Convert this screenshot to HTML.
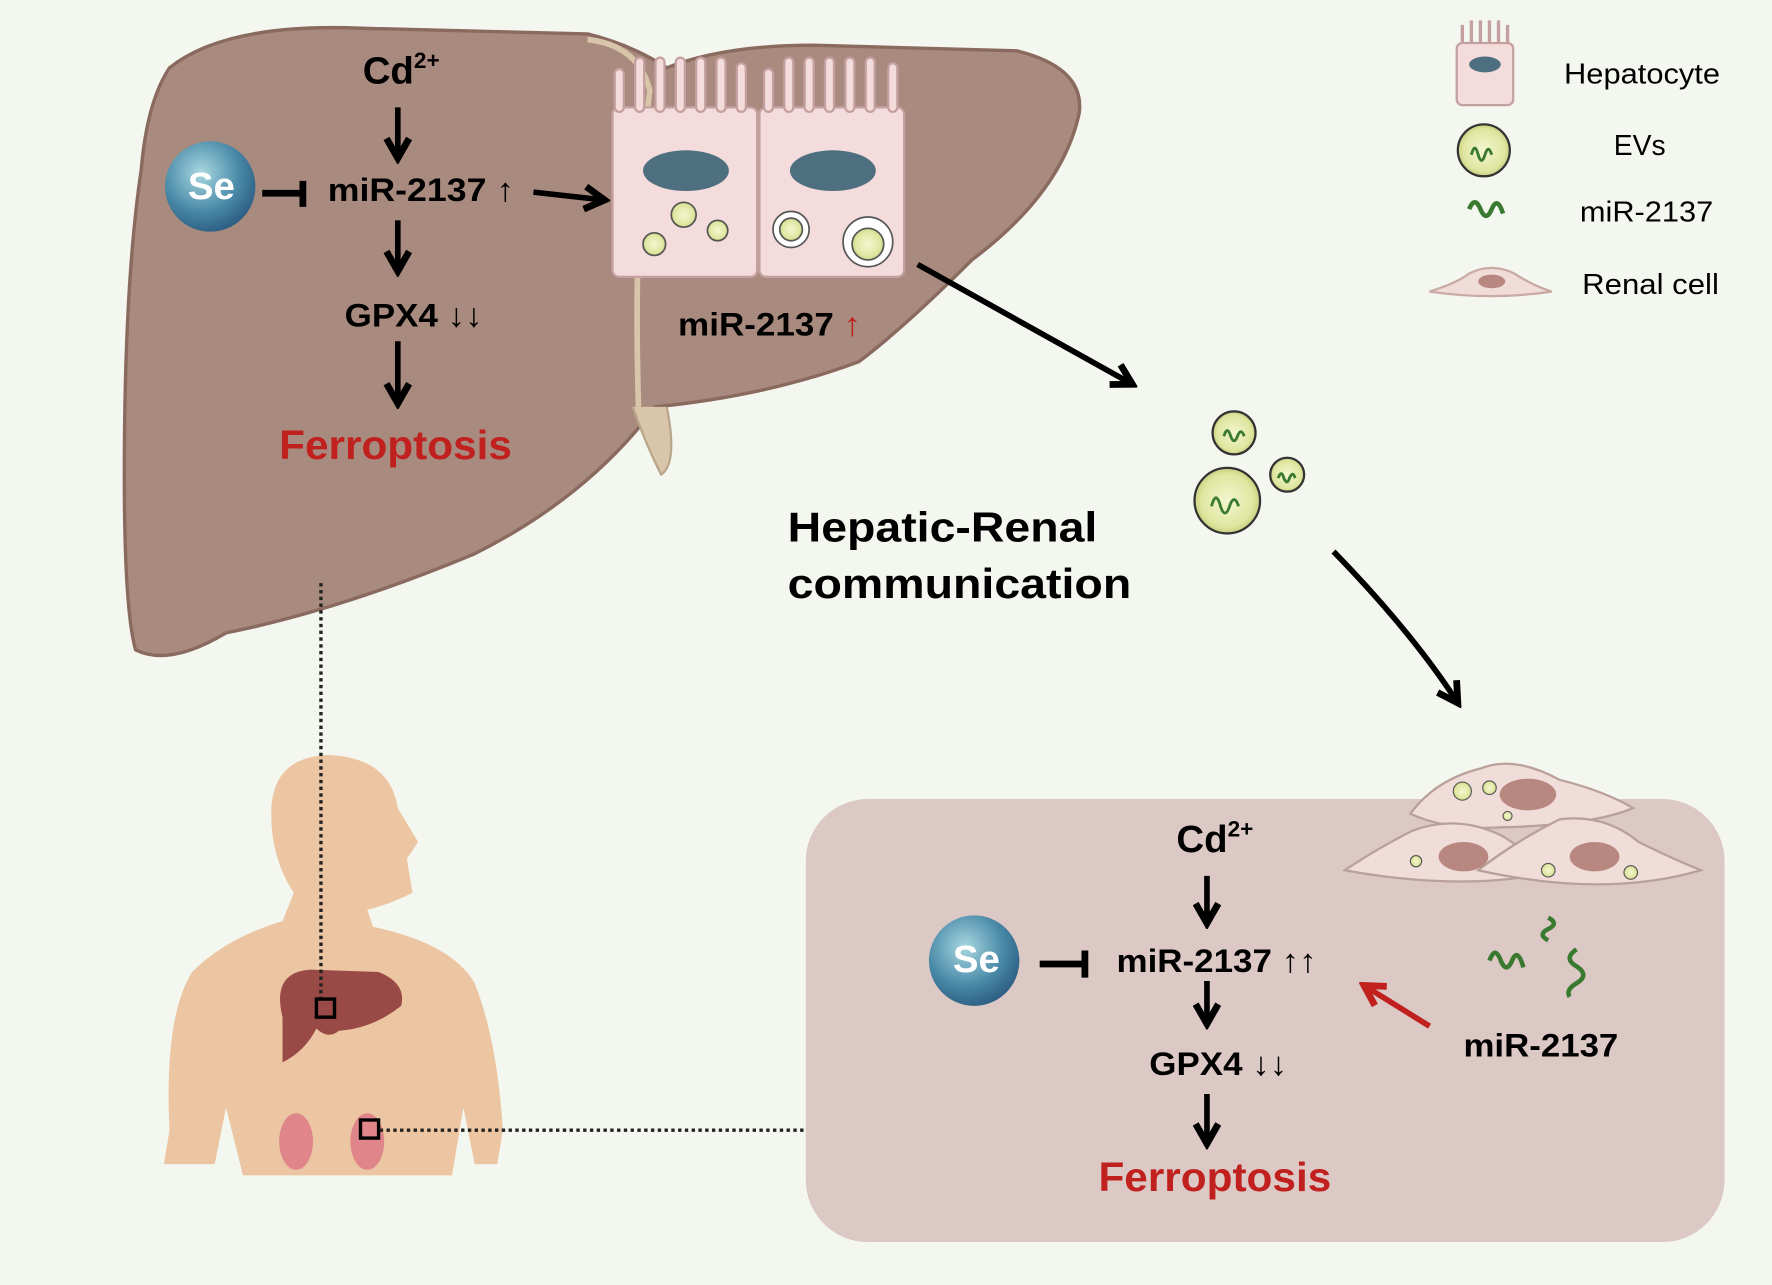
<!DOCTYPE html>
<html><head><meta charset="utf-8"><style>
html,body{margin:0;padding:0;background:#f4f7f0;}
svg{display:block}
text{font-family:"Liberation Sans",Arial,sans-serif;font-weight:bold;}
</style></head><body>
<svg width="1772" height="1285" viewBox="0 0 1568 1137" preserveAspectRatio="none" xmlns="http://www.w3.org/2000/svg">
<defs>
<marker id="ah" viewBox="0 0 10 10" refX="8" refY="5" markerWidth="5" markerHeight="5" orient="auto"><path d="M1,1 L8,5 L1,9" fill="none" stroke="#000" stroke-width="2.4"/></marker>
<marker id="ahr" viewBox="0 0 10 10" refX="8" refY="5" markerWidth="5" markerHeight="5" orient="auto"><path d="M1,1 L8,5 L1,9" fill="none" stroke="#c0201e" stroke-width="2.4"/></marker>
<radialGradient id="se" cx="0.4" cy="0.35" r="0.7"><stop offset="0" stop-color="#a8d8e0"/><stop offset="0.6" stop-color="#4a8aa8"/><stop offset="1" stop-color="#2a5a80"/></radialGradient>
<radialGradient id="ev" cx="0.5" cy="0.5" r="0.5"><stop offset="0" stop-color="#f4f6d0"/><stop offset="0.8" stop-color="#dfe6a0"/><stop offset="1" stop-color="#c8d080"/></radialGradient>
</defs>
<rect width="1568" height="1137" fill="#f4f7f0"/>
<!-- liver -->
<path d="M150,60 Q200,20 320,25 L520,30 Q560,40 590,60 Q640,40 720,40 L900,45 Q960,60 955,100 Q940,170 860,230 Q800,290 760,320 Q680,350 580,360 Q520,440 420,490 Q300,540 200,560 Q150,590 120,575 Q110,540 110,420 Q110,250 125,150 Q130,90 150,60 Z" fill="#a98a7e" stroke="#8a6a5f" stroke-width="3"/>
<path d="M560,360 Q570,390 585,420 Q600,410 590,360" fill="#d9c6aa" stroke="#b9a68a" stroke-width="2"/>
<path d="M520,35 Q565,40 575,80 Q560,200 565,360" fill="none" stroke="#d9c6aa" stroke-width="5"/>
<!-- hepatocytes -->
<g stroke="#c5a0a0" stroke-width="2" fill="#f5dcdc">
<rect x="542" y="95" width="128" height="150" rx="6"/>
<rect x="672" y="95" width="128" height="150" rx="6"/>
<path d="M548,95 V65 M566,95 V55 M584,95 V55 M602,95 V55 M620,95 V55 M638,95 V55 M656,95 V60 M680,95 V65 M698,95 V55 M716,95 V55 M734,95 V55 M752,95 V55 M770,95 V55 M790,95 V60" stroke="#c5a0a0" stroke-width="10" stroke-linecap="round"/>
<path d="M548,95 V65 M566,95 V55 M584,95 V55 M602,95 V55 M620,95 V55 M638,95 V55 M656,95 V60 M680,95 V65 M698,95 V55 M716,95 V55 M734,95 V55 M752,95 V55 M770,95 V55 M790,95 V60" stroke="#f5dcdc" stroke-width="6" stroke-linecap="round"/>
</g>
<ellipse cx="607" cy="151" rx="38" ry="18" fill="#4e6f80"/>
<ellipse cx="737" cy="151" rx="38" ry="18" fill="#4e6f80"/>
<g fill="url(#ev)" stroke="#555" stroke-width="1.5">
<circle cx="605" cy="190" r="11"/><circle cx="635" cy="204" r="9"/><circle cx="579" cy="216" r="10"/>
<circle cx="700" cy="203" r="16" fill="#fff"/><circle cx="700" cy="203" r="10"/>
<circle cx="768" cy="214" r="22" fill="#fff"/><circle cx="768" cy="216" r="14"/>
</g>
<!-- top text -->
<text x="355" y="74" font-size="34" text-anchor="middle">Cd<tspan font-size="20" dy="-14">2+</tspan></text>
<path d="M232,171 H268 M268,160 V183" stroke="#000" stroke-width="6"/>
<circle cx="186" cy="165" r="40" fill="url(#se)"/>
<text x="187" y="176" font-size="34" fill="#fff" text-anchor="middle">Se</text>
<text x="290" y="178" font-size="29" textLength="165" lengthAdjust="spacingAndGlyphs">miR-2137 <tspan font-weight="normal">↑</tspan></text>
<text x="305" y="289" font-size="29" textLength="122" lengthAdjust="spacingAndGlyphs">GPX4 <tspan font-weight="normal">↓↓</tspan></text>
<text x="350" y="406" font-size="36" fill="#c0201e" text-anchor="middle" textLength="206" lengthAdjust="spacingAndGlyphs">Ferroptosis</text>
<text x="600" y="297" font-size="29" textLength="162" lengthAdjust="spacingAndGlyphs">miR-2137 <tspan font-weight="normal" fill="#c0201e">↑</tspan></text>
<!-- legend -->
<rect x="1289" y="38" width="50" height="55" rx="5" fill="#f5dcdc" stroke="#c5a0a0" stroke-width="2"/>
<path d="M1294,38 V22 M1302,38 V18 M1310,38 V18 M1318,38 V18 M1326,38 V18 M1334,38 V22" stroke="#c5a0a0" stroke-width="3"/>
<ellipse cx="1314" cy="57" rx="14" ry="7" fill="#4e6f80"/>
<text x="1384" y="74" font-size="25" font-weight="normal" style="font-weight:normal" textLength="138" lengthAdjust="spacingAndGlyphs">Hepatocyte</text>
<circle cx="1313" cy="133" r="23" fill="url(#ev)" stroke="#333" stroke-width="2"/>
<path d="M1302,137 q3,-12 6,0 q3,10 6,0 q3,-10 6,0" stroke="#3a7a30" stroke-width="2.5" fill="none"/>
<text x="1428" y="137" font-size="25" style="font-weight:normal">EVs</text>
<path d="M1300,185 q5,-12 10,0 q5,12 10,0 q5,-12 10,4" stroke="#3a7a30" stroke-width="4" fill="none"/>
<text x="1398" y="196" font-size="25" style="font-weight:normal" textLength="118" lengthAdjust="spacingAndGlyphs">miR-2137</text>
<path d="M1265,258 Q1290,250 1300,242 Q1320,232 1340,242 Q1355,252 1373,258 Q1320,266 1265,258Z" fill="#f0dcd8" stroke="#c9aaa5" stroke-width="2"/>
<ellipse cx="1320" cy="249" rx="12" ry="6" fill="#b88880"/>
<text x="1400" y="260" font-size="25" style="font-weight:normal" textLength="121" lengthAdjust="spacingAndGlyphs">Renal cell</text>
<!-- EVs middle -->
<g fill="url(#ev)" stroke="#333" stroke-width="2">
<circle cx="1092" cy="383" r="19"/><circle cx="1139" cy="420" r="15"/><circle cx="1086" cy="443" r="29"/>
</g>
<g stroke="#3a7a30" stroke-width="2.5" fill="none">
<path d="M1083,386 q3,-10 6,0 q3,8 6,0 q3,-8 6,0"/><path d="M1131,423 q3,-8 5,0 q3,7 5,0 q3,-7 5,0"/><path d="M1072,448 q4,-15 8,0 q4,12 8,0 q4,-12 8,0"/>
</g>
<text x="697" y="479" font-size="37" textLength="274" lengthAdjust="spacingAndGlyphs">Hepatic-Renal</text>
<text x="697" y="529" font-size="37" textLength="304" lengthAdjust="spacingAndGlyphs">communication</text>
<!-- human -->
<path d="M150,1000 Q145,900 170,860 Q200,830 250,815 L260,790 Q240,760 240,720 Q240,670 290,668 Q345,670 352,715 L370,745 L360,760 L365,790 Q345,800 325,805 L330,820 Q400,835 420,870 Q440,920 445,1000 L440,1030 L420,1030 L410,980 L400,1040 L215,1040 L200,980 L190,1030 L145,1030 Z" fill="#ecc6a2"/>
<path d="M250,900 Q240,860 275,858 L335,860 Q360,870 355,890 Q330,910 300,912 Q290,920 280,910 Q270,930 250,940Z" fill="#9a4a46"/>
<ellipse cx="262" cy="1010" rx="15" ry="25" fill="#e0868a"/><ellipse cx="325" cy="1010" rx="15" ry="25" fill="#e0868a"/>
<line x1="284" y1="516" x2="284" y2="888" stroke="#222" stroke-width="3" stroke-dasharray="3,3"/>
<rect x="280" y="884" width="16" height="16" fill="none" stroke="#000" stroke-width="3"/>
<rect x="319" y="991" width="16" height="16" fill="none" stroke="#000" stroke-width="3"/>
<line x1="336" y1="1000" x2="712" y2="1000" stroke="#222" stroke-width="3" stroke-dasharray="3,3"/>
<!-- renal box -->
<rect x="713" y="707" width="813" height="392" rx="55" fill="#dcc8c4"/>
<g fill="#f0dcd8" stroke="#b9a09a" stroke-width="2">
<path d="M1248,720 Q1270,690 1310,680 Q1340,668 1380,690 Q1420,700 1445,715 Q1410,730 1330,732 Q1280,735 1248,720Z"/>
<path d="M1190,770 Q1220,750 1250,735 Q1290,720 1330,740 Q1360,760 1380,770 Q1300,790 1190,770Z"/>
<path d="M1308,770 Q1340,745 1380,725 Q1420,720 1450,745 Q1480,760 1505,770 Q1420,795 1308,770Z"/>
</g>
<ellipse cx="1352" cy="703" rx="25" ry="14" fill="#b88880"/>
<ellipse cx="1295" cy="758" rx="22" ry="13" fill="#b88880"/>
<ellipse cx="1411" cy="758" rx="22" ry="13" fill="#b88880"/>
<g fill="url(#ev)" stroke="#555" stroke-width="1"><circle cx="1294" cy="700" r="8"/><circle cx="1318" cy="697" r="6"/><circle cx="1253" cy="762" r="5"/><circle cx="1370" cy="770" r="6"/><circle cx="1443" cy="772" r="6"/><circle cx="1334" cy="722" r="4"/></g>
<g stroke="#3a7a30" stroke-width="4" fill="none">
<path d="M1318,850 q5,-14 10,0 q5,12 10,0 q5,-12 10,6"/>
<path d="M1370,812 q10,5 0,10 q-10,5 0,10"/>
<path d="M1395,840 q-12,8 0,15 q12,8 0,15 q-10,6 -6,12"/>
</g>
<!-- arrows -->
<g stroke="#000" stroke-width="5" fill="none" marker-end="url(#ah)">
<line x1="352" y1="95" x2="352" y2="140"/><line x1="352" y1="195" x2="352" y2="240"/><line x1="352" y1="302" x2="352" y2="357"/>
<line x1="472" y1="170" x2="535" y2="177"/>
<line x1="812" y1="234" x2="1002" y2="340"/>
<path d="M1180,488 Q1250,560 1290,622"/>
<line x1="1068" y1="775" x2="1068" y2="817"/><line x1="1068" y1="868" x2="1068" y2="906"/><line x1="1068" y1="968" x2="1068" y2="1012"/>
</g>
<text x="1075" y="754" font-size="34" text-anchor="middle">Cd<tspan font-size="20" dy="-14">2+</tspan></text>
<circle cx="862" cy="850" r="40" fill="url(#se)"/>
<text x="864" y="860" font-size="34" fill="#fff" text-anchor="middle">Se</text>
<path d="M920,853 H960 M960,841 V865" stroke="#000" stroke-width="6"/>
<text x="988" y="860" font-size="29" textLength="177" lengthAdjust="spacingAndGlyphs">miR-2137 <tspan font-weight="normal">↑↑</tspan></text>
<text x="1017" y="951" font-size="29" textLength="122" lengthAdjust="spacingAndGlyphs">GPX4 <tspan font-weight="normal">↓↓</tspan></text>
<text x="1075" y="1054" font-size="36" fill="#c0201e" text-anchor="middle" textLength="206" lengthAdjust="spacingAndGlyphs">Ferroptosis</text>
<line x1="1265" y1="908" x2="1207" y2="872" stroke="#c0201e" stroke-width="5" marker-end="url(#ahr)"/>
<text x="1295" y="935" font-size="29" textLength="137" lengthAdjust="spacingAndGlyphs">miR-2137</text>
</svg>
</body></html>
